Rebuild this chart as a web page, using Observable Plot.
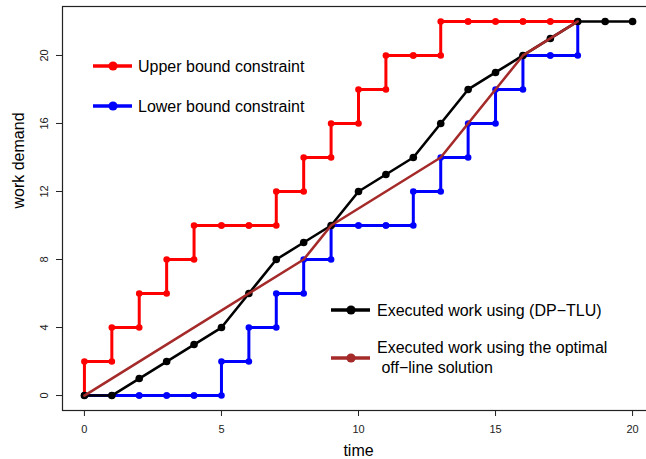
<!DOCTYPE html>
<html><head><meta charset="utf-8">
<script src="https://cdn.jsdelivr.net/npm/d3@7"></script>
<script src="https://cdn.jsdelivr.net/npm/@observablehq/plot@0.6"></script>
<style>
body{margin:0;background:#fff;overflow:hidden}
#chart{width:646px;height:459px;overflow:hidden;position:relative}
#chart svg{display:block;max-width:none !important;width:654px !important;height:459px !important}
</style>
</head><body><div id="chart"></div>
<script>
// ---- data ----
const boundTime = [0,1,2,3,4,5,6,7,8,9,10,11,12,13,14,15,16,17,18];
const upperBound = [2,4,6,8,10,10,10,12,14,16,18,20,20,22,22,22,22,22,22];
const lowerBound = [0,0,0,0,0,2,4,6,8,10,10,10,12,14,16,18,20,20,22];
const dpTime = [0,1,2,3,4,5,6,7,8,9,10,11,12,13,14,15,16,17,18,19,20];
const dpWork = [0,0,1,2,3,4,6,8,9,10,12,13,14,16,18,19,20,21,22,22,22];
const optTime = [0,8,9,13,16,18];
const optWork = [0,8,10,14,20,22];
const xTicks = [0,5,10,15,20];
const yTicks = [0,4,8,12,16,20];
const legendTop = ["Upper bound constraint","Lower bound constraint"];
const legendBottom = ["Executed work using (DP\u2212TLU)","Executed work using the optimal"," off\u2212line solution"];

const corners = (ts, vs) => ts.flatMap((t, i) => [{t, v: i ? vs[i-1] : 0}, {t, v: vs[i]}]);
const upper = corners(boundTime, upperBound);
const lower = corners(boundTime, lowerBound);
const dp = dpTime.map((t, i) => ({t, v: dpWork[i]}));
const opt = optTime.map((t, i) => ({t, v: optWork[i]}));

const RED = "#ff0000", BLUE = "#0000ff", BLACK = "#000000", BROWN = "#a52a2a";
const FONT = "'Liberation Sans', Arial, Helvetica, sans-serif";

const plot = Plot.plot({
  width: 654, height: 459,
  marginLeft: 62, marginRight: 0, marginTop: 6, marginBottom: 49,
  style: {fontFamily: FONT, fontSize: "11px", color: "#222", background: "#fff"},
  x: {domain: [-0.8, 20.8]},
  y: {domain: [-0.88, 22.88]},
  marks: [
    Plot.frame({stroke: "#222", strokeWidth: 1.2}),
    Plot.axisX(xTicks, {tickSize: 6, tickPadding: 9, label: null, stroke: "#222"}),
    Plot.axisY(yTicks, {tickSize: 6, tickPadding: 9, tickRotate: -90, label: null, stroke: "#222"}),
    Plot.text(["time"], {text: d => d, frameAnchor: "bottom", dy: 45, fontSize: 16, fill: "#000"}),
    Plot.text(["work demand"], {text: d => d, frameAnchor: "left", dx: -44, rotate: -90, fontSize: 16, fill: "#000"}),
    Plot.line(upper, {x: "t", y: "v", stroke: RED, strokeWidth: 3}),
    Plot.dot(upper, {x: "t", y: "v", r: 3.3, fill: RED}),
    Plot.line(lower, {x: "t", y: "v", stroke: BLUE, strokeWidth: 3}),
    Plot.dot(lower, {x: "t", y: "v", r: 3.3, fill: BLUE}),
    Plot.line(dp, {x: "t", y: "v", stroke: BLACK, strokeWidth: 2.6}),
    Plot.dot(dp, {x: "t", y: "v", r: 3.8, fill: BLACK}),
    Plot.line(opt, {x: "t", y: "v", stroke: BROWN, strokeWidth: 2.6})
  ]
});
document.getElementById("chart").appendChild(plot);

// ---- legends (inside plot area) ----
const svg = d3.select(plot);
function item(g, x, y, color, lw) {
  g.append("line").attr("x1", x).attr("x2", x + 39).attr("y1", y).attr("y2", y)
    .attr("stroke", color).attr("stroke-width", lw);
  g.append("circle").attr("cx", x + 20).attr("cy", y).attr("r", 4.6).attr("fill", color);
}
const lg = svg.append("g").attr("font-family", FONT).attr("font-size", 16).attr("fill", "#000").attr("text-anchor", "start");
item(lg, 93, 66, RED, 3.5);
item(lg, 93, 106, BLUE, 3.5);
lg.append("text").attr("x", 138).attr("y", 66).attr("dy", "0.35em").text(legendTop[0]);
lg.append("text").attr("x", 138).attr("y", 106).attr("dy", "0.35em").text(legendTop[1]);
item(lg, 331, 310, BLACK, 3.5);
item(lg, 331, 358, BROWN, 3.5);
lg.append("text").attr("x", 377).attr("y", 310).attr("dy", "0.35em").text(legendBottom[0]);
lg.append("text").attr("x", 377).attr("y", 347).attr("dy", "0.35em").text(legendBottom[1]);
lg.append("text").attr("x", 377).attr("y", 367).attr("dy", "0.35em").style("white-space", "pre").text(legendBottom[2]);
</script>
</body></html>
